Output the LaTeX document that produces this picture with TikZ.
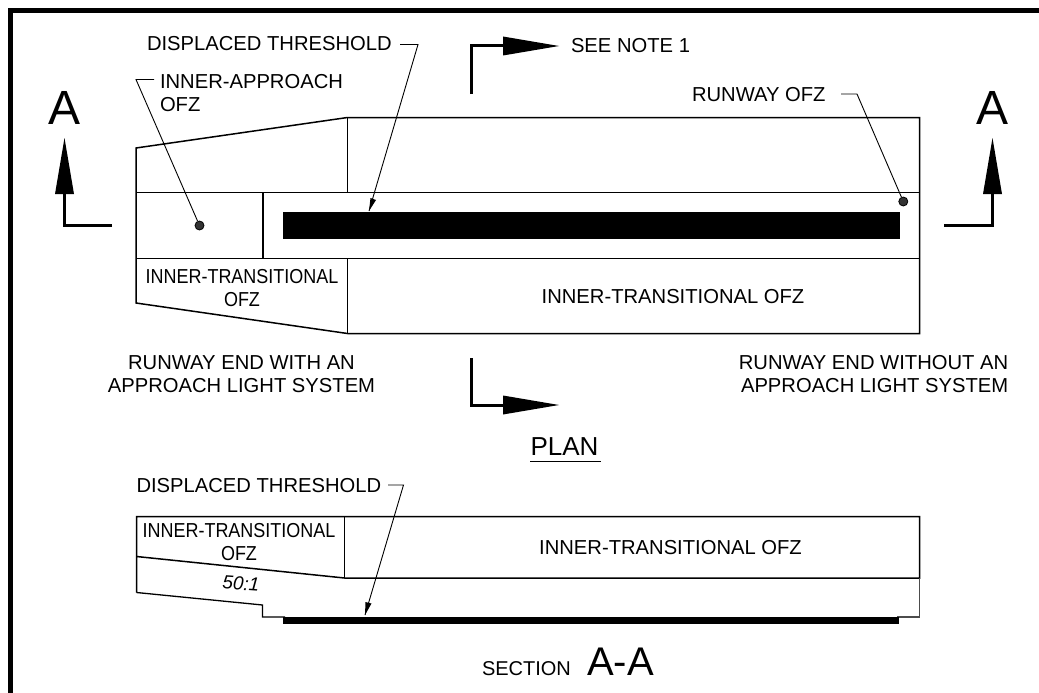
\documentclass[tikz,border=0pt]{standalone}
\usepackage{fontspec}
\setmainfont{Liberation Sans}
\tikzset{
  outline/.style={draw=black,line width=1.5pt,line join=miter},
  leader/.style={draw=black,line width=0.9pt},
  frameline/.style={draw=black,line width=4.4pt},
  cutline/.style={draw=black,line width=3pt,line join=miter},
  solidblack/.style={fill=black,draw=none},
  lbl/.style={inner sep=0pt,outer sep=0pt,font=\fontsize{20.2}{23}\selectfont,text=black},
  lblcc/.style={lbl,align=center,anchor=center},
  lblsm/.style={lblcc,xscale=0.89,transform shape},
  dot/.style={circle,fill=black!80,draw=black,line width=0.8pt,inner sep=0pt,minimum size=9pt},
}
\begin{document}
\begin{tikzpicture}[x=1pt,y=-1pt]
\useasboundingbox (0,0) rectangle (1039,693);
% frame
\draw[frameline] (1039,10.5) -- (10.5,10.5) -- (10.5,693);
% plan outline
\draw[outline] (136,303) -- (136,148) -- (347.5,117.5) -- (919.5,117.5) -- (919.5,333.5) -- (347.5,333.5) -- cycle;
\draw[outline] (136,192.5) -- (919.5,192.5);
\draw[outline] (136,258.5) -- (919.5,258.5);
\draw[outline] (347.5,117.5) -- (347.5,192.5);
\draw[outline] (347.5,258.5) -- (347.5,333.5);
\draw[outline] (263,192.5) -- (263,258.5);
\fill[solidblack] (283,212) rectangle (899.5,239);
% dots
\node[dot] (dotA) at (199.5,225.5) {};
\node[dot] (dotB) at (903.3,201.5) {};
% cut arrows
\draw[cutline] (471,94) -- (471,46) -- (505,46);
\fill[solidblack] (503,36.5) -- (559,46) -- (503,55.5) -- cycle;
\draw[cutline] (471,358) -- (471,405) -- (505,405);
\fill[solidblack] (503,395.5) -- (559,405) -- (503,414.5) -- cycle;
\draw[cutline] (112,225.5) -- (64.5,225.5) -- (64.5,192);
\fill[solidblack] (55,194) -- (64.5,138) -- (74,194) -- cycle;
\draw[cutline] (944,225.5) -- (992.5,225.5) -- (992.5,192);
\fill[solidblack] (983,194) -- (992.5,138) -- (1002,194) -- cycle;
% plan labels
\node[lbl,anchor=base west] (dt1) at (147,50.7) {DISPLACED THRESHOLD};
\node[lbl,anchor=base west] (note) at (571,53) {SEE NOTE 1};
\node[lbl,anchor=north west,align=left] (iao) at (160,74.2) {INNER-APPROACH\\OFZ};
\node[lbl,anchor=base west] (rofz) at (692,101.7) {RUNWAY OFZ};
\node[lbl,anchor=base,font=\fontsize{48}{48}\selectfont] (aL) at (64.5,124.5) {A};
\node[lbl,anchor=base,font=\fontsize{48}{48}\selectfont] (aR) at (992,124.5) {A};
\node[lblsm] (it1) at (242,288) {INNER-TRANSITIONAL\\OFZ};
\node[lbl,anchor=base] (it2) at (673,303.5) {INNER-TRANSITIONAL OFZ};
\node[lblcc] (rw1) at (241.5,374.5) {RUNWAY END WITH AN\\APPROACH LIGHT SYSTEM};
\node[lblcc,align=right] (rw2) at (873.5,374.5) {RUNWAY END WITHOUT AN\\APPROACH LIGHT SYSTEM};
\node[lbl,anchor=base west,font=\fontsize{26}{26}\selectfont] (plan) at (530.5,455.7) {PLAN};
\draw[line width=1pt] (530,461.3) -- (601,461.3);
% leaders
\coordinate (k1) at (136,79.5);
\coordinate (s1) at (154,79.5);
\draw[leader] (s1) -- (k1) -- (dotA);
\coordinate (s2) at (400,44.5);
\coordinate (k2) at (418,44.5);
\coordinate (t2) at (369,211);
\draw[leader] (s2) -- (k2) -- (t2);
\fill[solidblack] (t2) -- (370.5,198) -- (376,200) -- cycle;
\coordinate (s3) at (841,94);
\coordinate (k3) at (857,94);
\draw[leader] (s3) -- (k3) -- (dotB);
% section
\draw[outline] (136.5,592.5) -- (136.5,516.5) -- (919.5,516.5) -- (919.5,578) -- (344.5,578) -- (136.5,556.5);
\draw[outline] (344.5,516.5) -- (344.5,578);
\draw[line width=1.3pt] (136.5,592.5) -- (262.5,605) -- (262.5,617) -- (285,617);
\draw[draw=black!70,line width=1.2pt] (919.5,578) -- (919.5,617) -- (897,617);
\fill[solidblack] (283,617) rectangle (899,623.5);
\node[lbl,anchor=base west] (dt2) at (136.5,492) {DISPLACED THRESHOLD};
\node[lblsm] (it3) at (239,542.5) {INNER-TRANSITIONAL\\OFZ};
\node[lbl,anchor=base,font=\fontsize{19}{19}\selectfont\itshape,rotate=-4] (slope) at (240.5,590) {50:1};
\node[lbl,anchor=base] (it4) at (670.5,554.7) {INNER-TRANSITIONAL OFZ};
\node[lbl,anchor=base west,font=\fontsize{20}{20}\selectfont] (sec) at (482,675.7) {SECTION};
\node[lbl,anchor=base west,font=\fontsize{40}{40}\selectfont] (aa) at (587,675.7) {A-A};
\coordinate (s4) at (388,485);
\coordinate (k4) at (403.5,485);
\coordinate (t4) at (365,615);
\draw[leader] (s4) -- (k4) -- (t4);
\fill[solidblack] (t4) -- (365.5,602) -- (371.5,603.5) -- cycle;
\end{tikzpicture}
\end{document}
